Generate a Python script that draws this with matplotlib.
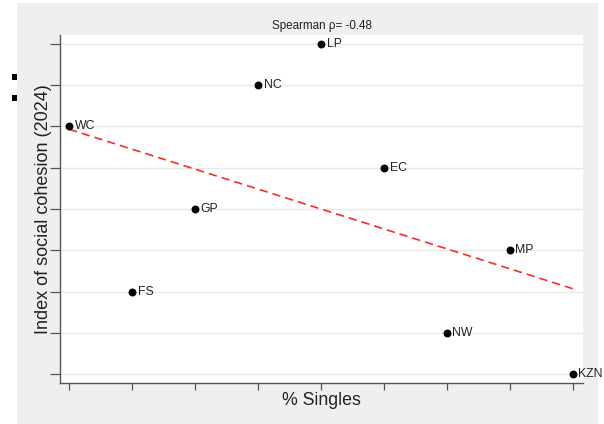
import matplotlib
matplotlib.use("Agg")
import matplotlib.pyplot as plt
import numpy as np

plt.rcParams['font.family'] = ['Liberation Sans', 'DejaVu Sans']

provinces = ["WC", "FS", "GP", "NC", "LP", "EC", "NW", "MP", "KZN"]
singles_rank = [1, 2, 3, 4, 5, 6, 7, 8, 9]
cohesion_rank = [7, 3, 5, 8, 9, 6, 2, 4, 1]
title_text = "Spearman ρ= -0.48"

W, H = 604, 424
fig = plt.figure(figsize=(W / 100, H / 100), dpi=100)
fig.patch.set_facecolor("white")

# gray graph region
bg = plt.Rectangle((17 / W, 0), (598 - 17) / W, 1 - 3 / H, transform=fig.transFigure,
                   facecolor="#efefef", edgecolor="none", zorder=-10)
fig.add_artist(bg)

# stray square markers at left
for yy in (77, 98):
    fig.add_artist(plt.Rectangle((12 / W, 1 - (yy + 2.5) / H), 5 / W, 5 / H,
                                 transform=fig.transFigure, facecolor="black",
                                 edgecolor="none", zorder=-5))

ax = fig.add_axes([60 / W, 1 - 383 / H, (583 - 60) / W, (383 - 35) / H])
ax.set_zorder(1)
ax.set_facecolor("white")
ax.set_xlim(0.857, 9.16)
ax.set_ylim(0.782, 9.218)

for s in ("top", "right"):
    ax.spines[s].set_visible(False)
for s in ("left", "bottom"):
    ax.spines[s].set_color("#555555")
    ax.spines[s].set_linewidth(1.0)

ax.set_xticks(singles_rank)
ax.set_yticks(range(1, 10))
ax.set_xticklabels([])
ax.set_yticklabels([])
ax.tick_params(axis="y", length=7, width=0.9, color="#555555")
ax.tick_params(axis="x", length=5, width=0.9, color="#555555")
ax.yaxis.grid(True, color="#e8e8e8", linewidth=1.0)
ax.set_axisbelow(True)

x = np.array(singles_rank, dtype=float)
y = np.array(cohesion_rank, dtype=float)
slope, intercept = np.polyfit(x, y, 1)
xx = np.array([x.min(), x.max()])
ax.plot(xx, intercept + slope * xx, color="#ff2a2a", linestyle=(0, (5, 3)), linewidth=1.2, zorder=2)

ax.scatter(x, y, s=22, color="black", zorder=3, clip_on=False)
for xi, yi, lab in zip(x, y, provinces):
    ax.annotate(lab, (xi, yi), xytext=(4, 0), textcoords="offset points",
                va="center", ha="left", fontsize=8.8, color="#222222",
                annotation_clip=False)

ax.set_title(title_text, fontsize=8.4, pad=4, color="#222222")
ax.set_xlabel("% Singles", fontsize=12.8, labelpad=-2, color="#222222")
ax.set_ylabel("Index of social cohesion (2024)", fontsize=13, color="#222222")
ax.yaxis.set_label_coords(-0.0153, 0.5)

fig.savefig("out.png", dpi=100, facecolor=fig.get_facecolor())
